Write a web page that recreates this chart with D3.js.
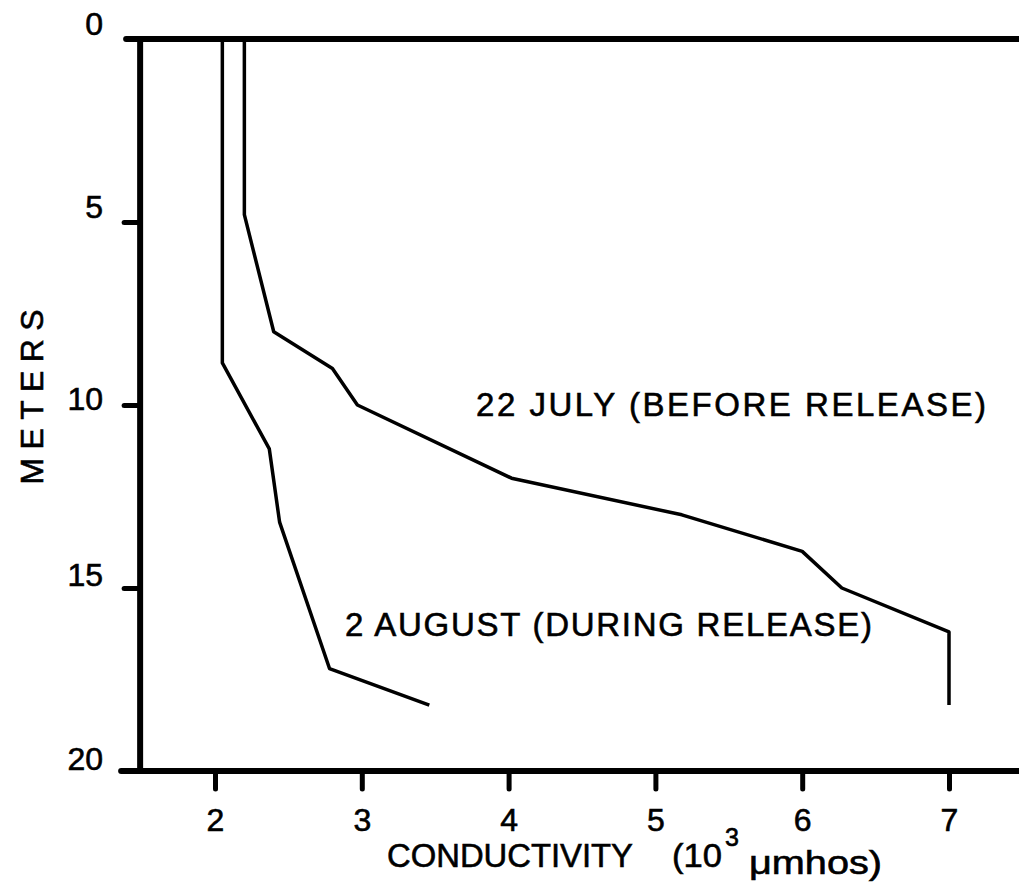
<!DOCTYPE html>
<html>
<head>
<meta charset="utf-8">
<script src="https://cdn.jsdelivr.net/npm/d3@7"></script>
<style>
  html, body { margin: 0; padding: 0; background: #fff; }
  svg { display: block; }
  text { font-family: "Liberation Sans", Arial, sans-serif; fill: #000; stroke: #000; stroke-width: 0.6px; }
</style>
</head>
<body>
<svg id="chart" width="1019" height="883"></svg>
<script>
// ---- Data ----
const julyCond  = [2.20, 2.20, 2.40, 2.80, 2.97, 4.02, 5.18, 6.00, 6.27, 7.00, 7.00];
const julyDepth = [0, 4.8, 8.0, 9.0, 10.0, 12.0, 13.0, 14.0, 15.0, 16.2, 18.2];
const augCond   = [2.05, 2.05, 2.37, 2.44, 2.78, 3.46];
const augDepth  = [0, 8.85, 11.2, 13.2, 17.2, 18.2];
const xTicks = [2, 3, 4, 5, 6, 7];
const yTicks = [0, 5, 10, 15, 20];
const yTickLabels = ["0", "5", "10", "15", "20"];
const julyLabel = "22 JULY (BEFORE RELEASE)";
const augLabel = "2 AUGUST (DURING RELEASE)";

const svg = d3.select("#chart");
const x = d3.scaleLinear().domain([2, 7]).range([215, 949]);
const y = d3.scaleLinear().domain([0, 20]).range([39, 771]);
const xLo = 1.49, xHi = 7.48;

// ---- Frame ----
const frame = svg.append("g").attr("stroke", "#000").attr("stroke-linecap", "round");
frame.append("line") // left axis
  .attr("x1", x(xLo)).attr("x2", x(xLo)).attr("y1", y(0)).attr("y2", y(20))
  .attr("stroke-width", 6);
frame.append("line") // top line
  .attr("x1", x(xLo) - 14).attr("x2", x(xHi)).attr("y1", y(0)).attr("y2", y(0))
  .attr("stroke-width", 6);
frame.append("line") // bottom axis
  .attr("x1", x(xLo) - 19).attr("x2", x(xHi)).attr("y1", y(20)).attr("y2", y(20))
  .attr("stroke-width", 6);

// ---- X axis ticks via d3 axis ----
const xAxis = d3.axisBottom(x).tickValues(xTicks).tickSize(18).tickPadding(19)
  .tickFormat(d3.format("d"));
const gx = svg.append("g").attr("transform", `translate(0,${y(20)})`).call(xAxis);
gx.select(".domain").remove();
gx.selectAll(".tick line").attr("stroke", "#000").attr("stroke-width", 5).attr("stroke-linecap", "round");
gx.selectAll(".tick text").attr("font-size", 32).attr("font-family", "Liberation Sans").attr("fill", "#000");

// ---- Y axis ticks ----
const yAxis = d3.axisLeft(y).tickValues(yTicks.slice(1, 4)).tickSize(16).tickFormat("");
const gy = svg.append("g").attr("transform", `translate(${x(xLo)},0)`).call(yAxis);
gy.select(".domain").remove();
gy.selectAll(".tick line").attr("stroke", "#000").attr("stroke-width", 5).attr("stroke-linecap", "round");

svg.append("g").selectAll("text").data(yTicks).join("text")
  .attr("x", 103)
  .attr("y", (d, i) => y(d) + [-4, -4, 5, -2, -1][i])
  .attr("text-anchor", "end")
  .attr("font-size", 32)
  .text((d, i) => yTickLabels[i]);

// ---- Axis titles ----
svg.append("text")
  .attr("transform", `translate(43,${(y(0) + y(20)) / 2 - 8}) rotate(-90)`)
  .attr("text-anchor", "middle")
  .attr("font-size", 32)
  .attr("textLength", 175).attr("lengthAdjust", "spacing")
  .text("METERS");

const title = svg.append("g");
title.append("text").attr("x", 387).attr("y", 867).attr("font-size", 34)
  .attr("textLength", 246).attr("lengthAdjust", "spacingAndGlyphs").text("CONDUCTIVITY");
title.append("text").attr("x", 672).attr("y", 867).attr("font-size", 34)
  .attr("textLength", 50).attr("lengthAdjust", "spacingAndGlyphs").text("(10");
title.append("text").attr("x", 725).attr("y", 846).attr("font-size", 25).text("3");
title.append("text").attr("x", 749).attr("y", 874).attr("font-size", 34)
  .attr("textLength", 133).attr("lengthAdjust", "spacingAndGlyphs").text("\u03BCmhos)");

// ---- Series ----
const line = d3.line().x(d => x(d[0])).y(d => y(d[1]));
const julyPts = julyCond.map((c, i) => [c, julyDepth[i]]);
const augPts = augCond.map((c, i) => [c, augDepth[i]]);
svg.append("g").selectAll("path").data([julyPts, augPts]).join("path")
  .attr("d", line)
  .attr("fill", "none")
  .attr("stroke", "#000")
  .attr("stroke-width", 3.5)
  .attr("stroke-linejoin", "round")
  .attr("stroke-linecap", "butt");

// ---- Series labels ----
svg.append("text").attr("x", 476).attr("y", 416).attr("font-size", 33)
  .attr("textLength", 510).attr("lengthAdjust", "spacing").text(julyLabel);
svg.append("text").attr("x", 345).attr("y", 636).attr("font-size", 33)
  .attr("textLength", 527).attr("lengthAdjust", "spacing").text(augLabel);
</script>
</body>
</html>
